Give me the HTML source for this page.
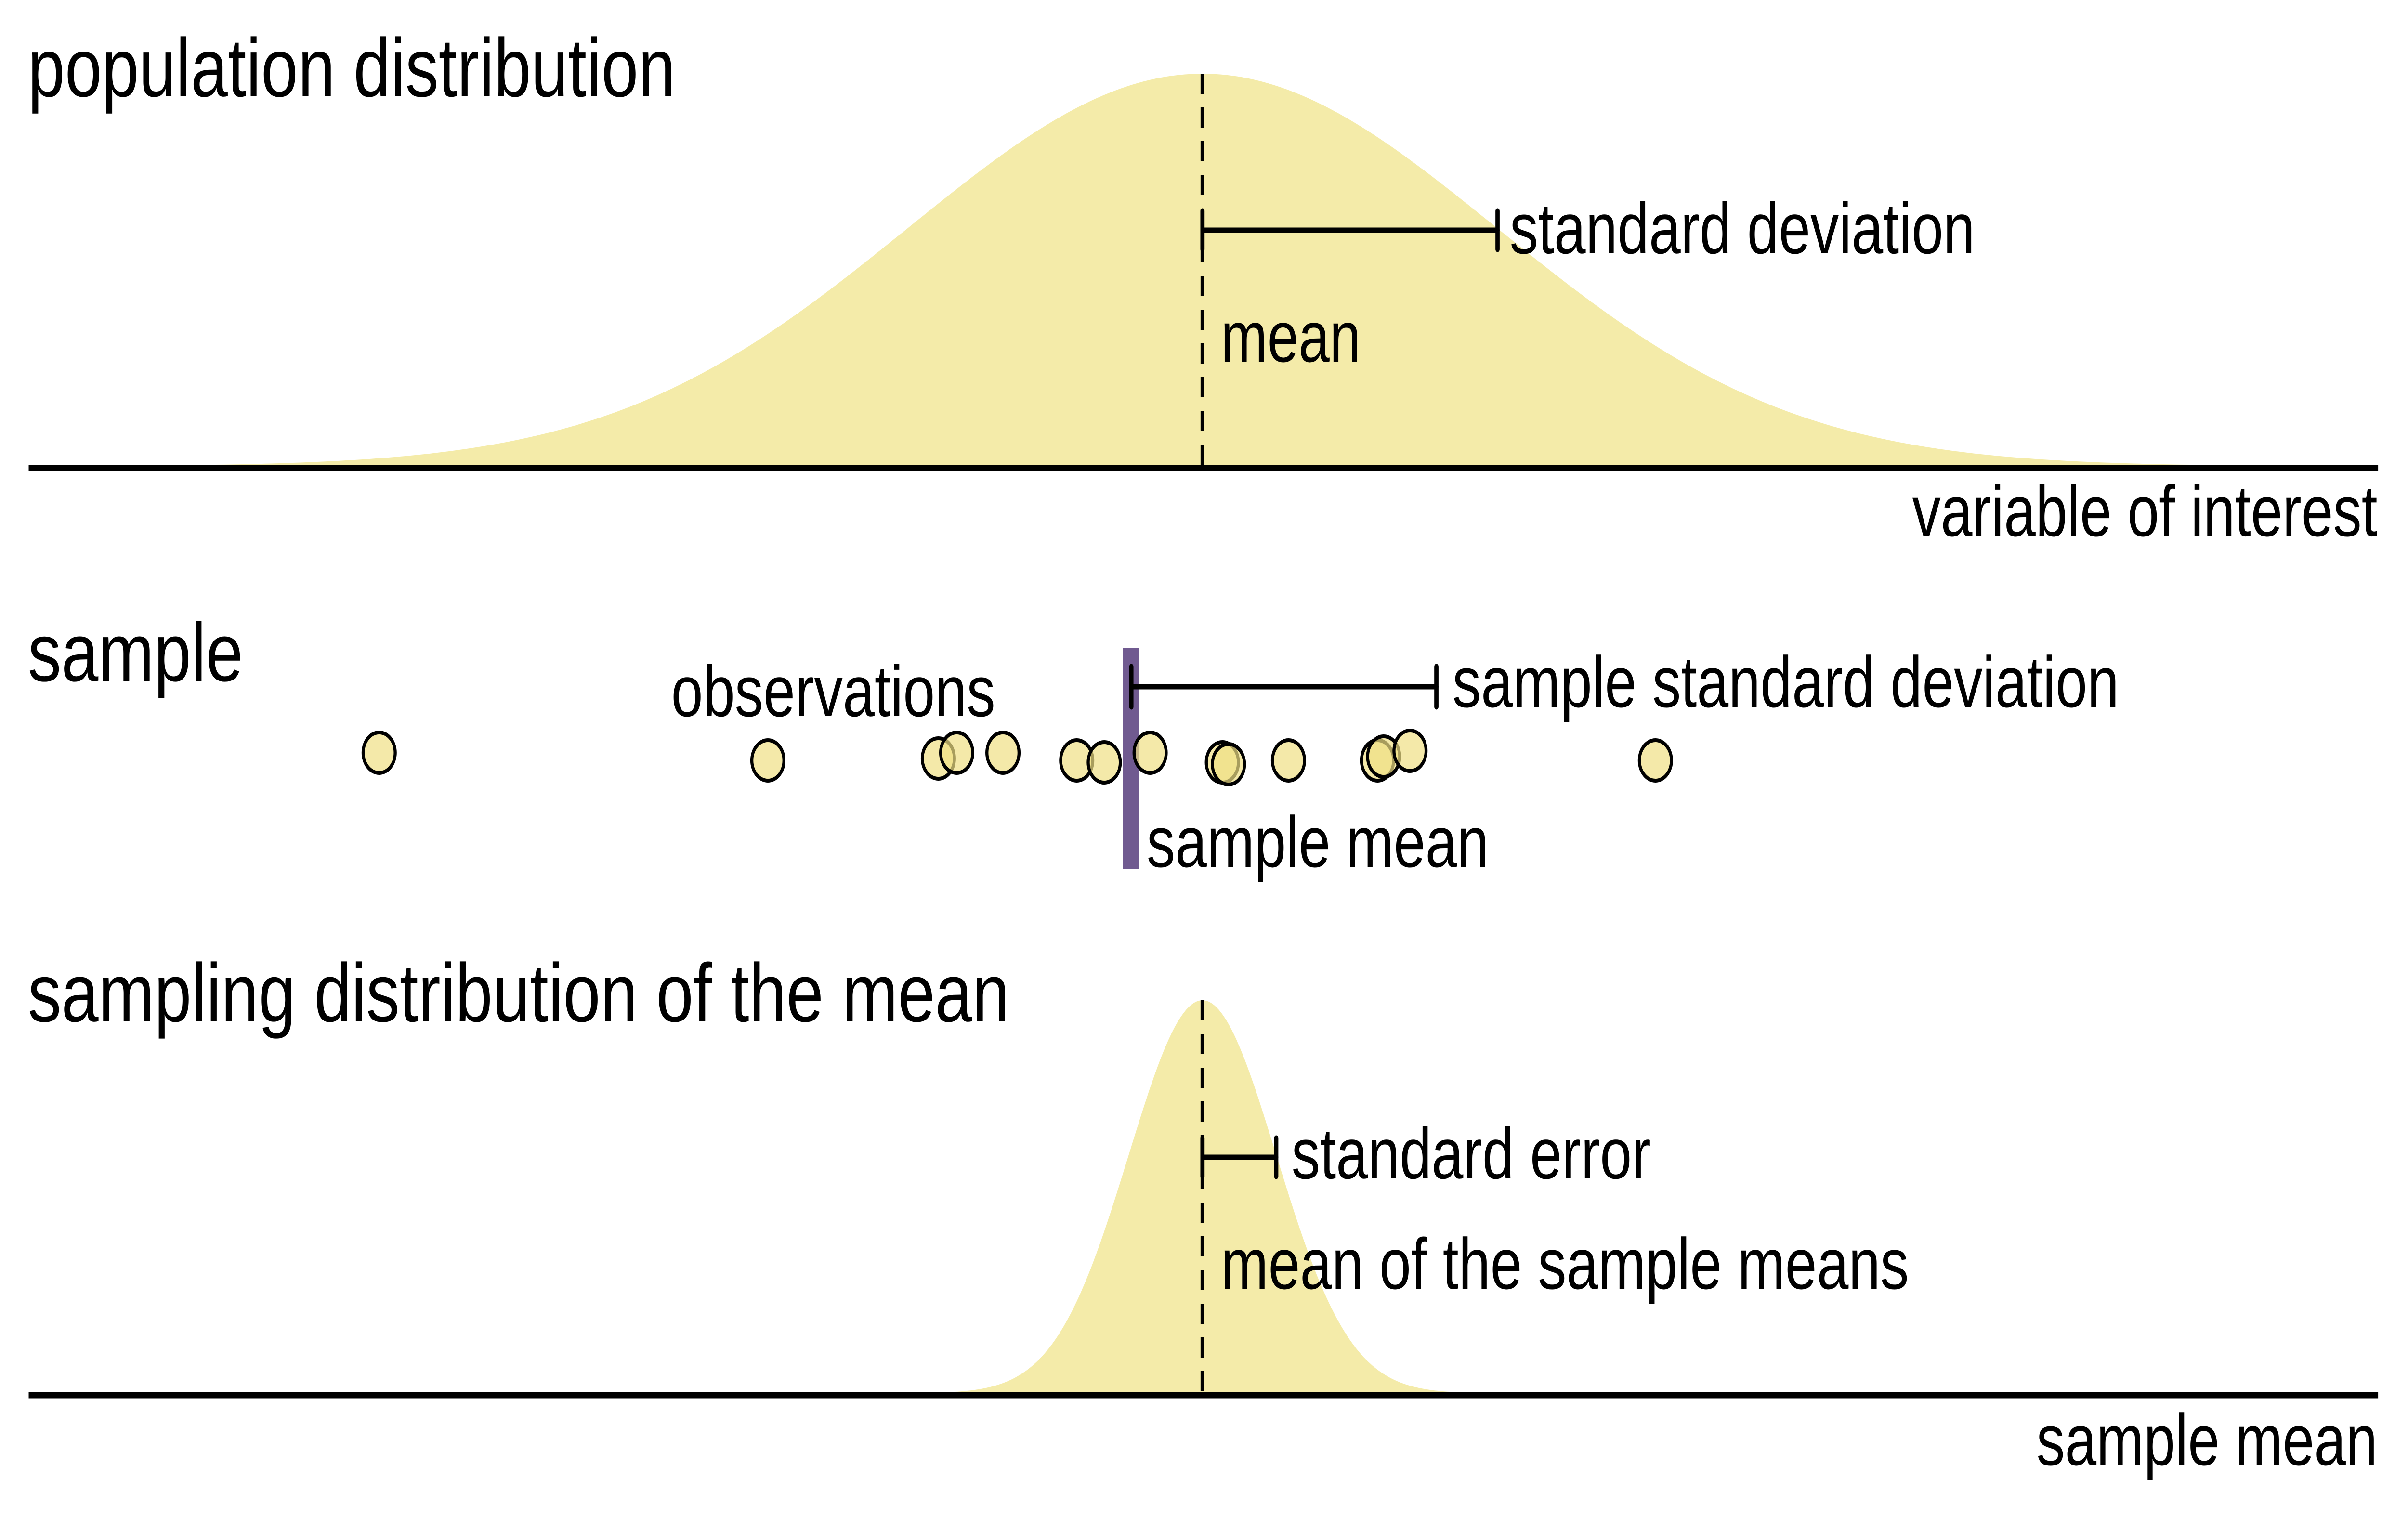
<!DOCTYPE html>
<html><head><meta charset="utf-8"><style>
html,body{margin:0;padding:0;background:#fff;overflow:hidden}
svg{display:block;width:100vw;height:100vh}
text{font-family:"Liberation Sans",Arial,sans-serif;fill:#000}
</style></head><body>
<svg viewBox="0 0 6300 3150" preserveAspectRatio="none" xmlns="http://www.w3.org/2000/svg">
<rect width="6300" height="3150" fill="#fff"/>
<!-- top curve -->
<polygon id="c1" fill="#f4eba9" points="447,968 640,963.8 833,959 1026,949.4 1218,932.2 1411,903.1 1604,857.7 1797,791.7 1989,703.4 2182,594.9 2375,473.7 2568,352.8 2760,248.8 2953,178.3 3146,153 3339,178.3 3532,248.8 3724,352.8 3917,473.7 4110,594.9 4303,703.4 4495,791.7 4688,857.7 4881,903.1 5074,932.2 5266,949.4 5459,959 5652,963.8 5845,968"/>
<line x1="75" y1="972" x2="6222" y2="972" stroke="#000" stroke-width="13"/>
<line x1="3146" y1="153" x2="3146" y2="968" stroke="#000" stroke-width="10" stroke-dasharray="42 28"/>
<g stroke="#000" stroke-width="11" stroke-linecap="round">
<line x1="3146" y1="478" x2="3918" y2="478"/>
<line x1="3918" y1="438" x2="3918" y2="518"/>
<line x1="3146" y1="438" x2="3146" y2="518"/>
</g>
<text x="73" y="200" font-size="172" textLength="1694" lengthAdjust="spacingAndGlyphs">population distribution</text>
<text x="3950" y="526" font-size="150" textLength="1217" lengthAdjust="spacingAndGlyphs">standard deviation</text>
<text x="3194" y="751" font-size="150" textLength="366" lengthAdjust="spacingAndGlyphs">mean</text>
<text x="5003" y="1113" font-size="150" textLength="1217" lengthAdjust="spacingAndGlyphs">variable of interest</text>

<!-- sample -->
<text x="73" y="1414" font-size="172" textLength="563" lengthAdjust="spacingAndGlyphs">sample</text>
<text x="1756" y="1487" font-size="150" textLength="848" lengthAdjust="spacingAndGlyphs">observations</text>
<rect x="2938" y="1345" width="41" height="460" fill="#705a90"/>
<g fill="#f0e084" fill-opacity="0.7" stroke="#000" stroke-width="8">
<circle cx="992" cy="1563" r="42"/>
<circle cx="2009" cy="1579" r="42"/>
<circle cx="2455" cy="1575" r="42"/>
<circle cx="2503" cy="1563" r="42"/>
<circle cx="2624" cy="1563" r="42"/>
<circle cx="2817" cy="1579" r="42"/>
<circle cx="2889" cy="1583" r="42"/>
<circle cx="3009" cy="1563" r="42"/>
<circle cx="3198" cy="1583" r="42"/>
<circle cx="3214" cy="1587" r="42"/>
<circle cx="3371" cy="1579" r="42"/>
<circle cx="3604" cy="1579" r="42"/>
<circle cx="3620" cy="1571" r="42"/>
<circle cx="3689" cy="1559" r="42"/>
<circle cx="4331" cy="1579" r="42"/>
</g>
<g stroke="#000" stroke-width="11" stroke-linecap="round">
<line x1="2960" y1="1426" x2="3758" y2="1426"/>
<line x1="2960" y1="1384" x2="2960" y2="1468"/>
<line x1="3758" y1="1384" x2="3758" y2="1468"/>
</g>
<text x="3800" y="1468" font-size="150" textLength="1744" lengthAdjust="spacingAndGlyphs">sample standard deviation</text>
<text x="3000" y="1800" font-size="150" textLength="895" lengthAdjust="spacingAndGlyphs">sample mean</text>

<!-- sampling distribution -->
<polygon id="c2" fill="#f4eba9" points="2470,2893 2519,2891.2 2567,2888.8 2615,2883.9 2663,2874.4 2712,2857.2 2760,2828 2808,2782.6 2856,2716.5 2905,2628 2953,2519.4 3001,2398.1 3049,2277.1 3098,2172.9 3146,2077 3194,2102.3 3243,2172.9 3291,2277.1 3339,2398.1 3387,2519.4 3436,2628 3484,2716.5 3532,2782.6 3580,2828 3629,2857.2 3677,2874.4 3725,2883.9 3773,2888.8 3822,2893"/>
<line x1="75" y1="2897" x2="6222" y2="2897" stroke="#000" stroke-width="13"/>
<line x1="3146" y1="2077" x2="3146" y2="2893" stroke="#000" stroke-width="10" stroke-dasharray="42 28"/>
<g stroke="#000" stroke-width="11" stroke-linecap="round">
<line x1="3146" y1="2403" x2="3339" y2="2403"/>
<line x1="3146" y1="2363" x2="3146" y2="2443"/>
<line x1="3339" y1="2363" x2="3339" y2="2443"/>
</g>
<text x="73" y="2121" font-size="172" textLength="2568" lengthAdjust="spacingAndGlyphs">sampling distribution of the mean</text>
<text x="3379" y="2447" font-size="150" textLength="940" lengthAdjust="spacingAndGlyphs">standard error</text>
<text x="3194" y="2676" font-size="150" textLength="1800" lengthAdjust="spacingAndGlyphs">mean of the sample means</text>
<text x="5328" y="3042" font-size="150" textLength="892" lengthAdjust="spacingAndGlyphs">sample mean</text>
</svg>
<script>
function g(id,cx,s,H,base,k){var p=[];for(var x=-k;x<=k+1e-9;x+=0.02){p.push((cx+x*s).toFixed(1)+","+(base-H*Math.exp(-x*x/2)).toFixed(1));}document.getElementById(id).setAttribute("points",p.join(" "));}
try{g("c1",3146,771,815,968,3.5);g("c2",3146,193,816,2893,3.5);}catch(e){}
</script>
</body></html>
